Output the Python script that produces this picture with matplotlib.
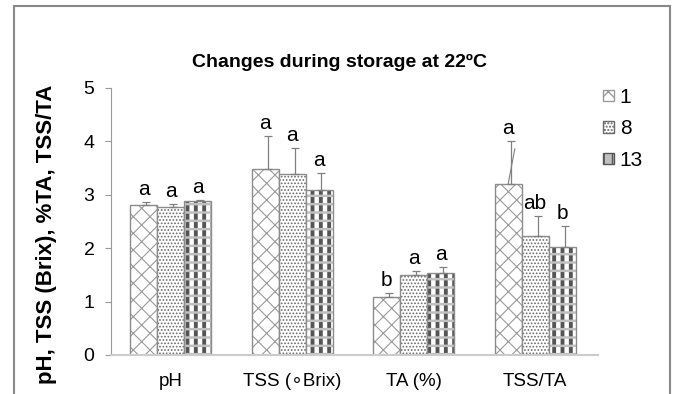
import numpy as np
import matplotlib
matplotlib.use("Agg")
import matplotlib.pyplot as plt
from matplotlib.patches import Rectangle, Patch

plt.rcParams["font.family"] = ["Liberation Sans", "DejaVu Sans"]

categories = ["pH", "TSS (\u2218Brix)", "TA (%)", "TSS/TA"]
series = ["1", "8", "13"]
means = {
    "1": [2.80, 3.49, 1.09, 3.20],
    "8": [2.77, 3.39, 1.50, 2.23],
    "13": [2.88, 3.09, 1.53, 2.02],
}
errors = {
    "1": [0.06, 0.61, 0.07, 0.81],
    "8": [0.06, 0.49, 0.08, 0.37],
    "13": [0.02, 0.32, 0.12, 0.39],
}
letters = {
    "1": ["a", "a", "b", "a"],
    "8": ["a", "a", "a", "ab"],
    "13": ["a", "a", "a", "b"],
}

fig = plt.figure(figsize=(6.73, 3.94), dpi=100)
# outer frame
fig.add_artist(Rectangle((14 / 673, -0.05), (670 - 14) / 673, 1.05 - 6 / 394,
                         transform=fig.transFigure, fill=False,
                         edgecolor="#888888", linewidth=1.5))

ax = fig.add_axes([0.165, 0.099, 0.724, 0.678])
x = np.arange(len(categories))
width = 0.222


def hatched(pos, vals, hatch, color, lw, face="white"):
    with plt.rc_context({"hatch.linewidth": lw}):
        ax.bar(pos, vals, width, color=face, edgecolor=color, hatch=hatch,
               linewidth=0)


for i, s in enumerate(series):
    pos = x + (i - 1) * width
    if s == "1":
        hatched(pos, means[s], "xx", "#9a9a9a", 0.8)
    elif s == "8":
        hatched(pos, means[s], ".....", "#6a6a6a", 0.8)
    else:
        hatched(pos, means[s], "||", "#555555", 2.8)
        hatched(pos, means[s], "--", "#c0c0c0", 1.8, face="none")
    ax.bar(pos, means[s], width, color="none", edgecolor="#8c8c8c", linewidth=1.0)
    yerr = [np.zeros(len(categories)), errors[s]]
    ax.errorbar(pos + 0.02, means[s], yerr=yerr, fmt="none", ecolor="#808080",
                elinewidth=0.9, capsize=3, capthick=0.9)
    for j in range(len(categories)):
        ax.annotate(letters[s][j], (pos[j], means[s][j] + errors[s][j]),
                    xytext=(0, 5), textcoords="offset points",
                    ha="center", va="baseline", fontsize=15)

# leader line from the TSS/TA letter down to its bar
j = 3
ax.annotate("", xy=(x[j] - width, means["1"][j]),
            xytext=(x[j] - width + 0.055, means["1"][j] + errors["1"][j] - 0.15),
            arrowprops=dict(arrowstyle="-", color="#808080", lw=0.8,
                            shrinkA=0, shrinkB=0))

ax.set_xlim(-0.49, 3.52)
ax.set_ylim(0, 5)
ax.set_yticks([0, 1, 2, 3, 4, 5])
ax.set_xticks(x)
ax.set_xticklabels(categories, fontsize=13.5)
ax.tick_params(axis="x", length=0, pad=13)
ax.tick_params(axis="y", labelsize=14, length=4, color="#999999", pad=8)
for side in ["top", "right"]:
    ax.spines[side].set_visible(False)
ax.spines["left"].set_color("#999999")
ax.spines["bottom"].set_color("#cccccc")
ax.spines["bottom"].set_linewidth(1.5)

ax.set_ylabel("pH, TSS (Brix), %TA, TSS/TA", fontsize=16, fontweight="bold")
ax.yaxis.set_label_coords(-0.11, 0.45)
fig.text(0.505, 0.842, "Changes during storage at 22\u00baC", ha="center",
         va="center", fontsize=14, fontweight="bold")

with plt.rc_context({"hatch.linewidth": 0.8}):
    handles = [
        Patch(facecolor="white", edgecolor="#9a9a9a", hatch="xx", label="1"),
        Patch(facecolor="white", edgecolor="#6a6a6a", hatch=".....", label="8"),
        Patch(facecolor="#c0c0c0", edgecolor="#555555", hatch="||", label="13"),
    ]
ax.legend(handles=handles, loc="upper left", bbox_to_anchor=(1.01, 1.0),
          frameon=False, fontsize=15, handlelength=0.5, handleheight=0.5,
          handletextpad=0.3, labelspacing=0.6, borderaxespad=0, borderpad=0)

fig.savefig("out.png", dpi=100)
